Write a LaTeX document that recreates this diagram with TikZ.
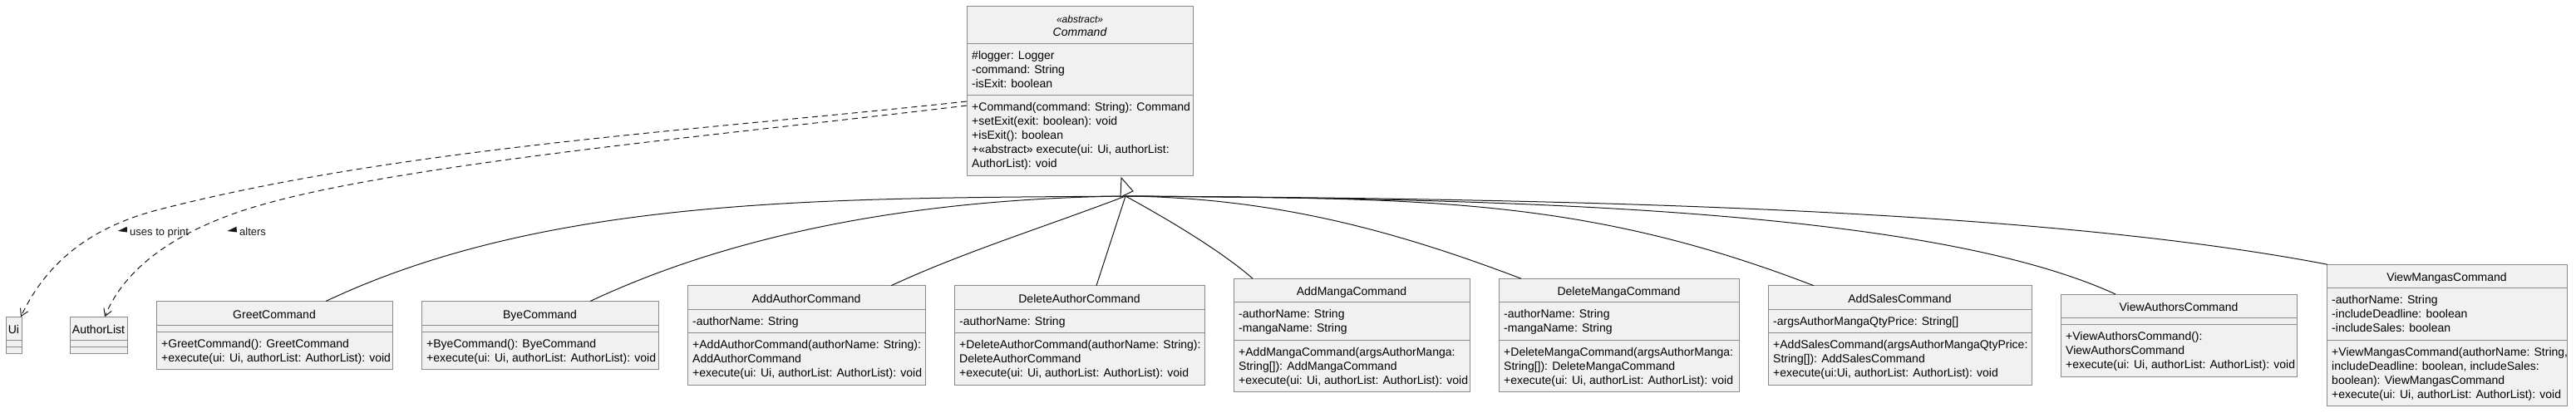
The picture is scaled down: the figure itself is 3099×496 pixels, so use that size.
\documentclass[tikz,border=0pt]{standalone}
\usepackage{fontspec}
\setmainfont{Liberation Sans}
\usetikzlibrary{arrows.meta,calc}
\definecolor{boxfill}{HTML}{F1F1F1}
\definecolor{boxline}{HTML}{8A8A8A}
\definecolor{edgecol}{HTML}{181818}
\newcommand\memfont{\fontsize{14}{17}\selectfont}
\newcommand\lblfont{\fontsize{13}{15}\selectfont}
\newcommand\mstrut{\rule[-4pt]{0pt}{17pt}}
\tikzset{
  classbox/.style={rectangle, draw=boxline, fill=boxfill, line width=1pt, inner sep=0pt, outer sep=0pt},
  divider/.style={draw=boxline, line width=1pt},
  titletext/.style={anchor=base, font=\memfont, inner sep=0pt},
  membertext/.style={anchor=north west, align=left, font=\memfont, inner sep=0pt},
  gen/.style={draw=edgecol, line width=1pt},
  dep/.style={draw=edgecol, line width=1pt, dash pattern=on 7pt off 5pt, -{Straight Barb[length=8.5pt,width=10pt]}},
  lbl/.style={anchor=base west, font=\lblfont, inner sep=0pt, text=edgecol},
}
\newcommand\umlclass[9]{%
  \pgfmathsetmacro\ha{ifthenelse(#6==0,8,17*#6+11.5)}%
  \pgfmathsetmacro\hm{ifthenelse(#8==0,8,17*#8+11.5)}%
  \pgfmathsetmacro\htot{28.5+\ha+\hm}%
  \pgfmathsetmacro\ytop{403.5-\htot/2}%
  \pgfmathsetmacro\ydb{28.5+\ha}%
  \node[classbox, minimum width=#3pt, minimum height=\htot pt, anchor=north west] (#1) at (#2,\ytop) {};
  \draw[divider] ([yshift=-28.5pt]#1.north west) -- ([yshift=-28.5pt]#1.north east);
  \draw[divider] ([yshift=-\ydb pt]#1.north west) -- ([yshift=-\ydb pt]#1.north east);
  \node[titletext] (#1-t) at ([yshift=-20.5pt]#1.north) {#5};
  \ifnum#6>0 \node[membertext] (#1-a) at ([xshift=6pt,yshift=-34.5pt]#1.north west) {\mstrut#7};\fi
  \ifnum#8>0 \node[membertext] (#1-m) at ([xshift=6pt,yshift=-\ydb pt-6pt]#1.north west) {\mstrut#9};\fi
}
\begin{document}
\begin{tikzpicture}[x=1pt,y=-1pt]
\useasboundingbox (0,0) rectangle (3099,496);

% abstract parent
\node[classbox, minimum width=272pt, minimum height=204pt, anchor=north west] (cmd) at (1163,7) {};
\draw[divider] ([yshift=-45pt]cmd.north west) -- ([yshift=-45pt]cmd.north east);
\draw[divider] ([yshift=-107.5pt]cmd.north west) -- ([yshift=-107.5pt]cmd.north east);
\node[anchor=base, inner sep=0pt, font=\fontsize{12}{14}\selectfont\itshape] (cmd-s) at ([yshift=-20pt]cmd.north) {«abstract»};
\node[anchor=base, inner sep=0pt, font=\memfont\itshape] (cmd-t) at ([yshift=-36pt]cmd.north) {Command};
\node[membertext] (cmd-a) at ([xshift=6pt,yshift=-51pt]cmd.north west) {\mstrut\#logger: Logger\\-command: String\\-isExit: boolean};
\node[membertext] (cmd-m) at ([xshift=6pt,yshift=-113.5pt]cmd.north west) {\mstrut+Command(command: String): Command\\+setExit(exit: boolean): void\\+isExit(): boolean\\+«abstract» execute(ui: Ui, authorList:\\AuthorList): void};

% bottom row
\umlclass{ui}{7}{19}{}{Ui}{0}{}{0}{}
\umlclass{al}{84}{69}{}{AuthorList}{0}{}{0}{}
\umlclass{greet}{188}{284}{}{GreetCommand}{0}{}{2}{+GreetCommand(): GreetCommand\\+execute(ui: Ui, authorList: AuthorList): void}
\umlclass{bye}{507}{285}{}{ByeCommand}{0}{}{2}{+ByeCommand(): ByeCommand\\+execute(ui: Ui, authorList: AuthorList): void}
\umlclass{addauthor}{827}{286}{}{AddAuthorCommand}{1}{-authorName: String}{3}{+AddAuthorCommand(authorName: String):\\AddAuthorCommand\\+execute(ui: Ui, authorList: AuthorList): void}
\umlclass{delauthor}{1148}{301}{}{DeleteAuthorCommand}{1}{-authorName: String}{3}{+DeleteAuthorCommand(authorName: String):\\DeleteAuthorCommand\\+execute(ui: Ui, authorList: AuthorList): void}
\umlclass{addmanga}{1484}{284}{}{AddMangaCommand}{2}{-authorName: String\\-mangaName: String}{3}{+AddMangaCommand(argsAuthorManga:\\String{[]}): AddMangaCommand\\+execute(ui: Ui, authorList: AuthorList): void}
\umlclass{delmanga}{1803}{289}{}{DeleteMangaCommand}{2}{-authorName: String\\-mangaName: String}{3}{+DeleteMangaCommand(argsAuthorManga:\\String{[]}): DeleteMangaCommand\\+execute(ui: Ui, authorList: AuthorList): void}
\umlclass{addsales}{2127}{317}{}{AddSalesCommand}{1}{-argsAuthorMangaQtyPrice: String{[]}}{3}{+AddSalesCommand(argsAuthorMangaQtyPrice:\\String{[]}): AddSalesCommand\\+execute(ui:Ui, authorList: AuthorList): void}
\umlclass{viewauthors}{2479}{284}{}{ViewAuthorsCommand}{0}{}{3}{+ViewAuthorsCommand():\\ViewAuthorsCommand\\+execute(ui: Ui, authorList: AuthorList): void}
\umlclass{viewmangas}{2799}{289}{}{ViewMangasCommand}{3}{-authorName: String\\-includeDeadline: boolean\\-includeSales: boolean}{4}{+ViewMangasCommand(authorName: String,\\includeDeadline: boolean, includeSales:\\boolean): ViewMangasCommand\\+execute(ui: Ui, authorList: AuthorList): void}

% generalization edges
\coordinate (gs) at ([xshift=55pt,yshift=-25pt]cmd.south);
\draw[gen] (gs) .. controls +(-350,3) and +(271,-128) .. ([xshift=204pt]greet.north west);
\draw[gen] (gs) .. controls +(-240,3) and +(181,-85) .. ([xshift=203pt]bye.north west);
\draw[gen] (gs) .. controls +(-94,36) and +(86,-40) .. ([xshift=245pt]addauthor.north west);
\draw[gen] (gs) -- ([xshift=171pt]delauthor.north west);
\draw[gen] (gs) .. controls +(55,30) and +(-35,-31) .. ([xshift=23pt]addmanga.north west);
\draw[gen] (gs) .. controls +(180,2) and +(-150,-57) .. ([xshift=27pt]delmanga.north west);
\draw[gen] (gs) .. controls +(350,3) and +(-280,-108) .. ([xshift=55pt]addsales.north west);
\draw[gen] (gs) .. controls +(450,3) and +(-227,-104) .. ([xshift=66pt]viewauthors.north west);
\draw[gen] (gs) .. controls +(550,3) and +(-344,-66) .. ([xshift=1pt]viewmangas.north west);
\draw[gen, fill=white, line join=miter] ([xshift=50pt,yshift=-3pt]cmd.south) -- ([xshift=64pt,yshift=-19pt]cmd.south) -- ([xshift=49pt,yshift=-26pt]cmd.south) -- cycle;

% dependency edges
\coordinate (du) at (196,251);
\coordinate (da) at (306,249);
\draw[dep] ([yshift=-13pt]cmd.west) .. controls +(-321,35) and +(291,-74) .. (du)
  .. controls +(-90,22) and +(30,-63) .. ([xshift=18pt]ui.north west);
\draw[dep] ([yshift=-18pt]cmd.west) .. controls +(-298,36) and +(172.4,-51.7) .. (da)
  .. controls +(-73,22) and +(29,-70.6) .. ([xshift=42pt]al.north west);
\fill[edgecol] (141.7,278) -- (152.7,272.7) -- (153,279.5) -- cycle;
\node[lbl] (lbl-uses) at (156,283) {uses to print};
\fill[edgecol] (273.3,278) -- (284.5,272.7) -- (285,279.5) -- cycle;
\node[lbl] (lbl-alters) at (288,283) {alters};
\end{tikzpicture}
\end{document}
